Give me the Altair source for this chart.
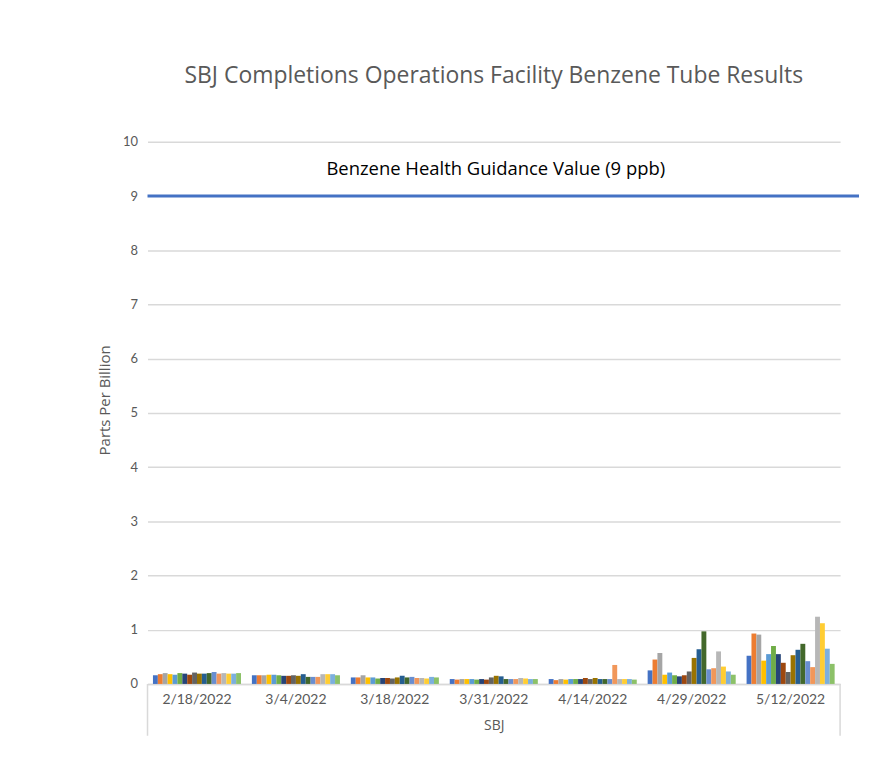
import altair as alt
import pandas as pd

dates = ["2/18/2022", "3/4/2022", "3/18/2022", "3/31/2022", "4/14/2022", "4/29/2022", "5/12/2022"]
tubes = [f"Tube {i}" for i in range(1, 19)]

v_0218 = [0.16, 0.18, 0.20, 0.18, 0.17, 0.20, 0.19, 0.17, 0.21, 0.19, 0.19, 0.20, 0.22, 0.19, 0.20, 0.19, 0.19, 0.20]
v_0304 = [0.16, 0.16, 0.16, 0.17, 0.17, 0.16, 0.15, 0.15, 0.16, 0.15, 0.18, 0.13, 0.13, 0.13, 0.18, 0.18, 0.18, 0.16]
v_0318 = [0.12, 0.12, 0.16, 0.12, 0.12, 0.10, 0.11, 0.11, 0.10, 0.12, 0.15, 0.12, 0.13, 0.11, 0.11, 0.10, 0.13, 0.12]
v_0331 = [0.09, 0.08, 0.09, 0.09, 0.09, 0.08, 0.09, 0.08, 0.12, 0.15, 0.14, 0.09, 0.09, 0.09, 0.11, 0.10, 0.09, 0.09]
v_0414 = [0.09, 0.07, 0.09, 0.08, 0.09, 0.09, 0.09, 0.11, 0.09, 0.11, 0.09, 0.09, 0.09, 0.35, 0.09, 0.09, 0.09, 0.08]
v_0429 = [0.25, 0.45, 0.57, 0.17, 0.21, 0.16, 0.14, 0.16, 0.23, 0.48, 0.64, 0.97, 0.27, 0.29, 0.60, 0.32, 0.23, 0.17]
v_0512 = [0.52, 0.93, 0.91, 0.43, 0.55, 0.70, 0.55, 0.39, 0.22, 0.53, 0.63, 0.74, 0.42, 0.31, 1.24, 1.12, 0.65, 0.37]

series_by_date = [v_0218, v_0304, v_0318, v_0331, v_0414, v_0429, v_0512]

colors = ["#4472C4", "#ED7D31", "#A5A5A5", "#FFC000", "#5B9BD5", "#70AD47",
          "#264478", "#9E480E", "#636363", "#997300", "#255E91", "#43682B",
          "#698ED0", "#F1975A", "#B7B7B7", "#FFCD33", "#7CAFDD", "#8CC168"]

guidance_value = 9
guidance_label = "Benzene Health Guidance Value (9 ppb)"
title_text = "SBJ Completions Operations Facility Benzene Tube Results"
y_ticks = list(range(0, 11))

rows = []
for d, vals in zip(dates, series_by_date):
    for t, v in zip(tubes, vals):
        rows.append({"date": d, "tube": t, "ppb": v})
df = pd.DataFrame(rows)

FONT = "Lato"
FONT2 = "Open Sans"
W, H = 695, 544

bars = alt.Chart(df).mark_bar().encode(
    x=alt.X("date:N", sort=dates,
            scale=alt.Scale(paddingInner=0.11, paddingOuter=0.055),
            axis=alt.Axis(title="SBJ", labelAngle=0, labelFontSize=14, labelColor="#595959",
                          labelFont=FONT, labelPadding=9, ticks=False, domain=True,
                          domainColor="#D9D9D9", domainWidth=1.5,
                          titleFont=FONT2, titleFontSize=14, titleFontWeight="normal",
                          titleColor="#595959", titlePadding=12, grid=False)),
    xOffset=alt.XOffset("tube:N", sort=tubes, scale=alt.Scale(paddingInner=0, paddingOuter=0)),
    y=alt.Y("ppb:Q", scale=alt.Scale(domain=[0, 10], nice=False),
            axis=alt.Axis(values=y_ticks, title="Parts Per Billion", labelFontSize=13,
                          labelColor="#595959", labelFont=FONT, labelPadding=10,
                          ticks=False, domain=False, grid=True, gridColor="#D9D9D9",
                          gridWidth=1.5, titleFont=FONT2, titleFontSize=15,
                          titleFontWeight="normal", titleColor="#595959", titlePadding=10,
                          titleY=259)),
    color=alt.Color("tube:N", sort=tubes, scale=alt.Scale(domain=tubes, range=colors), legend=None),
)

gdf = pd.DataFrame({"v": [guidance_value], "label": [guidance_label]})

guide_line = alt.Chart(gdf).mark_rule(color="#4472C4", strokeWidth=3, clip=False).encode(
    y="v:Q", x=alt.value(0), x2=alt.value(W + 19)
)

guide_text = alt.Chart(gdf).mark_text(font=FONT2, fontSize=18.5, color="#000000", dy=-27,
                                      align="center", baseline="middle").encode(
    y="v:Q", x=alt.value(W / 2 + 2), text="label:N"
)

edge = pd.DataFrame({"a": [0]})
left_edge = alt.Chart(edge).mark_rect(color="#D9D9D9", clip=False).encode(
    x=alt.value(-0.75), x2=alt.value(0.75), y=alt.datum(0), y2=alt.value(H + 52)
)
right_edge = alt.Chart(edge).mark_rect(color="#D9D9D9", clip=False).encode(
    x=alt.value(W - 0.75), x2=alt.value(W + 0.75), y=alt.datum(0), y2=alt.value(H + 52)
)

chart = alt.layer(bars, guide_line, guide_text, left_edge, right_edge).properties(
    width=W, height=H,
    title=alt.TitleParams(title_text, font=FONT2, fontSize=23, fontWeight="normal",
                          color="#595959", anchor="middle", offset=48),
    autosize=alt.AutoSizeParams(type="none"),
    padding={"left": 140, "top": 133, "right": 22, "bottom": 70},
).configure_view(strokeWidth=0, stroke="transparent")

chart.save("out.html", embed_options={"renderer": "svg", "actions": False})
